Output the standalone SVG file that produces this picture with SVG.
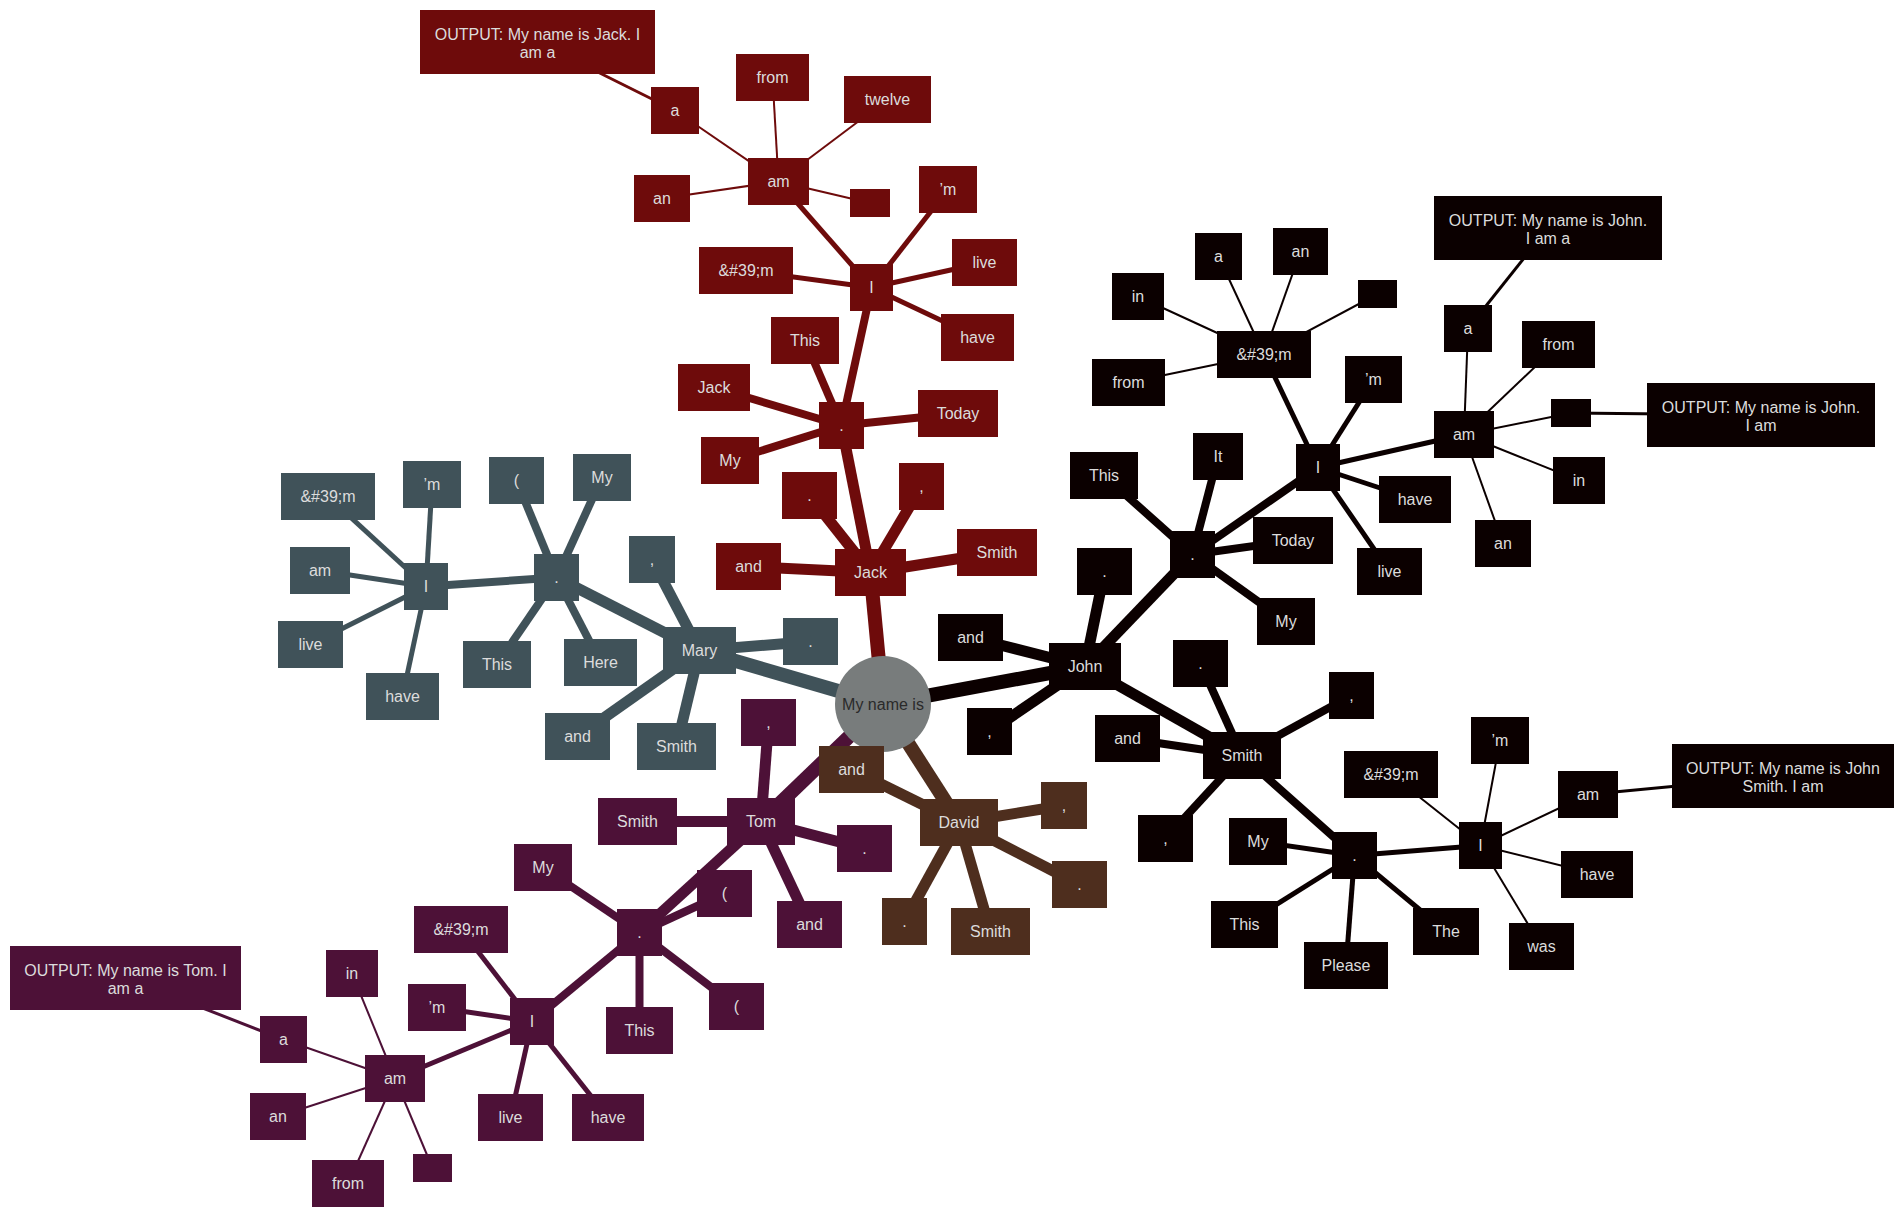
<svg xmlns="http://www.w3.org/2000/svg" width="1904" height="1217" viewBox="0 0 1904 1217">
<style>
.t{font-family:"Liberation Sans",Arial,sans-serif;font-size:16px;fill:#dcdcdc;text-anchor:middle}
.rt{font-family:"Liberation Sans",Arial,sans-serif;font-size:16px;fill:#2a2a2a;text-anchor:middle}
.s0 rect{fill:#6e0b0b}.s1 rect{fill:#405259}.s2 rect{fill:#4d1137}.s3 rect{fill:#4e2e1e}.s4 rect{fill:#0b0000}
.e0{stroke:#6e0b0b}.e1{stroke:#405259}.e2{stroke:#4d1137}.e3{stroke:#4e2e1e}.e4{stroke:#0b0000}
line{fill:none}
.d0{stroke-width:14}.d1{stroke-width:11}.d2{stroke-width:8}.d3{stroke-width:5}.d4{stroke-width:2}.d5{stroke-width:3}
</style>
<rect width="1904" height="1217" fill="#ffffff"/>
<g id="edges">
<!-- Jack -->
<g class="e0">
<line class="d0" x1="883" y1="704" x2="870.5" y2="572.5"/>
<line class="d1" x1="870.5" y1="572.5" x2="748.5" y2="566.5"/>
<line class="d1" x1="870.5" y1="572.5" x2="809.5" y2="495.5"/>
<line class="d1" x1="870.5" y1="572.5" x2="921.5" y2="486.5"/>
<line class="d1" x1="870.5" y1="572.5" x2="997" y2="552.5"/>
<line class="d1" x1="870.5" y1="572.5" x2="841.5" y2="425.5"/>
<line class="d2" x1="841.5" y1="425.5" x2="958" y2="413.5"/>
<line class="d2" x1="841.5" y1="425.5" x2="730" y2="460.5"/>
<line class="d2" x1="841.5" y1="425.5" x2="714" y2="387.5"/>
<line class="d2" x1="841.5" y1="425.5" x2="805" y2="340.5"/>
<line class="d2" x1="841.5" y1="425.5" x2="871.5" y2="287.5"/>
<line class="d3" x1="871.5" y1="287.5" x2="746" y2="270.5"/>
<line class="d3" x1="871.5" y1="287.5" x2="948" y2="189.5"/>
<line class="d3" x1="871.5" y1="287.5" x2="984.5" y2="262.5"/>
<line class="d3" x1="871.5" y1="287.5" x2="977.5" y2="337.5"/>
<line class="d3" x1="871.5" y1="287.5" x2="778.5" y2="181.5"/>
<line class="d4" x1="778.5" y1="181.5" x2="675" y2="110.5"/>
<line class="d4" x1="778.5" y1="181.5" x2="772.5" y2="77.5"/>
<line class="d4" x1="778.5" y1="181.5" x2="887.5" y2="99.5"/>
<line class="d4" x1="778.5" y1="181.5" x2="662" y2="198.5"/>
<line class="d4" x1="778.5" y1="181.5" x2="870" y2="203"/>
<line class="d5" x1="675" y1="110.5" x2="537.5" y2="42"/>
</g>
<!-- Mary -->
<g class="e1">
<line class="d0" x1="883" y1="704" x2="699.5" y2="650.5"/>
<line class="d1" x1="699.5" y1="650.5" x2="810.5" y2="641.5"/>
<line class="d1" x1="699.5" y1="650.5" x2="652" y2="559.5"/>
<line class="d1" x1="699.5" y1="650.5" x2="577.5" y2="736.5"/>
<line class="d1" x1="699.5" y1="650.5" x2="676.5" y2="746.5"/>
<line class="d1" x1="699.5" y1="650.5" x2="556.5" y2="577.5"/>
<line class="d2" x1="556.5" y1="577.5" x2="516.5" y2="480.5"/>
<line class="d2" x1="556.5" y1="577.5" x2="602" y2="477.5"/>
<line class="d2" x1="556.5" y1="577.5" x2="497" y2="664.5"/>
<line class="d2" x1="556.5" y1="577.5" x2="600.5" y2="662.5"/>
<line class="d2" x1="556.5" y1="577.5" x2="426" y2="586.5"/>
<line class="d3" x1="426" y1="586.5" x2="328" y2="496.5"/>
<line class="d3" x1="426" y1="586.5" x2="432" y2="484.5"/>
<line class="d3" x1="426" y1="586.5" x2="320" y2="570.5"/>
<line class="d3" x1="426" y1="586.5" x2="310.5" y2="644.5"/>
<line class="d3" x1="426" y1="586.5" x2="402.5" y2="696.5"/>
</g>
<!-- Tom -->
<g class="e2">
<line class="d0" x1="883" y1="704" x2="761" y2="821.5"/>
<line class="d1" x1="761" y1="821.5" x2="768.5" y2="722.5"/>
<line class="d1" x1="761" y1="821.5" x2="637.5" y2="821.5"/>
<line class="d1" x1="761" y1="821.5" x2="864.5" y2="848.5"/>
<line class="d1" x1="761" y1="821.5" x2="809.5" y2="924.5"/>
<line class="d1" x1="761" y1="821.5" x2="639.5" y2="932.5"/>
<line class="d2" x1="639.5" y1="932.5" x2="543" y2="867.5"/>
<line class="d2" x1="639.5" y1="932.5" x2="724.5" y2="893.5"/>
<line class="d2" x1="639.5" y1="932.5" x2="736.5" y2="1006.5"/>
<line class="d2" x1="639.5" y1="932.5" x2="639.5" y2="1030.5"/>
<line class="d2" x1="639.5" y1="932.5" x2="532" y2="1021.5"/>
<line class="d3" x1="532" y1="1021.5" x2="461" y2="929.5"/>
<line class="d3" x1="532" y1="1021.5" x2="437" y2="1007.5"/>
<line class="d3" x1="532" y1="1021.5" x2="510.5" y2="1117.5"/>
<line class="d3" x1="532" y1="1021.5" x2="608" y2="1117.5"/>
<line class="d3" x1="532" y1="1021.5" x2="395" y2="1078.5"/>
<line class="d4" x1="395" y1="1078.5" x2="352" y2="973.5"/>
<line class="d4" x1="395" y1="1078.5" x2="283.5" y2="1039.5"/>
<line class="d4" x1="395" y1="1078.5" x2="278" y2="1116.5"/>
<line class="d4" x1="395" y1="1078.5" x2="348" y2="1183.5"/>
<line class="d4" x1="395" y1="1078.5" x2="432.5" y2="1168"/>
<line class="d5" x1="283.5" y1="1039.5" x2="125.5" y2="978"/>
</g>
<!-- David -->
<g class="e3">
<line class="d0" x1="883" y1="704" x2="959" y2="822.5"/>
<line class="d1" x1="959" y1="822.5" x2="851.5" y2="769.5"/>
<line class="d1" x1="959" y1="822.5" x2="1064" y2="805.5"/>
<line class="d1" x1="959" y1="822.5" x2="1079.5" y2="884.5"/>
<line class="d1" x1="959" y1="822.5" x2="904.5" y2="921.5"/>
<line class="d1" x1="959" y1="822.5" x2="990.5" y2="931.5"/>
</g>
<!-- John -->
<g class="e4">
<line class="d0" x1="883" y1="704" x2="1085" y2="666.5"/>
<line class="d1" x1="1085" y1="666.5" x2="970.5" y2="637.5"/>
<line class="d1" x1="1085" y1="666.5" x2="1104.5" y2="571.5"/>
<line class="d1" x1="1085" y1="666.5" x2="989.5" y2="731.5"/>
<line class="d1" x1="1085" y1="666.5" x2="1192.5" y2="554.5"/>
<line class="d1" x1="1085" y1="666.5" x2="1242" y2="755.5"/>
<line class="d2" x1="1192.5" y1="554.5" x2="1104" y2="475.5"/>
<line class="d2" x1="1192.5" y1="554.5" x2="1218" y2="456.5"/>
<line class="d2" x1="1192.5" y1="554.5" x2="1293" y2="540.5"/>
<line class="d2" x1="1192.5" y1="554.5" x2="1286" y2="621.5"/>
<line class="d2" x1="1192.5" y1="554.5" x2="1318" y2="467.5"/>
<line class="d3" x1="1318" y1="467.5" x2="1264" y2="354.5"/>
<line class="d3" x1="1318" y1="467.5" x2="1373.5" y2="379.5"/>
<line class="d3" x1="1318" y1="467.5" x2="1415" y2="499.5"/>
<line class="d3" x1="1318" y1="467.5" x2="1389.5" y2="571.5"/>
<line class="d3" x1="1318" y1="467.5" x2="1464" y2="434.5"/>
<line class="d4" x1="1264" y1="354.5" x2="1138" y2="296.5"/>
<line class="d4" x1="1264" y1="354.5" x2="1218.5" y2="256.5"/>
<line class="d4" x1="1264" y1="354.5" x2="1300.5" y2="251.5"/>
<line class="d4" x1="1264" y1="354.5" x2="1377.5" y2="294"/>
<line class="d4" x1="1264" y1="354.5" x2="1128.5" y2="382.5"/>
<line class="d4" x1="1464" y1="434.5" x2="1468" y2="328.5"/>
<line class="d4" x1="1464" y1="434.5" x2="1558.5" y2="344.5"/>
<line class="d4" x1="1464" y1="434.5" x2="1571" y2="413"/>
<line class="d4" x1="1464" y1="434.5" x2="1579" y2="480.5"/>
<line class="d4" x1="1464" y1="434.5" x2="1503" y2="543.5"/>
<line class="d5" x1="1468" y1="328.5" x2="1548" y2="228"/>
<line class="d5" x1="1571" y1="413" x2="1761" y2="415"/>
<line class="d2" x1="1242" y1="755.5" x2="1200.5" y2="663.5"/>
<line class="d2" x1="1242" y1="755.5" x2="1351.5" y2="695.5"/>
<line class="d2" x1="1242" y1="755.5" x2="1127.5" y2="738.5"/>
<line class="d2" x1="1242" y1="755.5" x2="1165.5" y2="838.5"/>
<line class="d2" x1="1242" y1="755.5" x2="1354.5" y2="855.5"/>
<line class="d3" x1="1354.5" y1="855.5" x2="1258" y2="841.5"/>
<line class="d3" x1="1354.5" y1="855.5" x2="1244.5" y2="924.5"/>
<line class="d3" x1="1354.5" y1="855.5" x2="1346" y2="965.5"/>
<line class="d3" x1="1354.5" y1="855.5" x2="1446" y2="931.5"/>
<line class="d3" x1="1354.5" y1="855.5" x2="1480.5" y2="845.5"/>
<line class="d4" x1="1480.5" y1="845.5" x2="1391" y2="774.5"/>
<line class="d4" x1="1480.5" y1="845.5" x2="1500" y2="740.5"/>
<line class="d4" x1="1480.5" y1="845.5" x2="1588" y2="794.5"/>
<line class="d4" x1="1480.5" y1="845.5" x2="1597" y2="874.5"/>
<line class="d4" x1="1480.5" y1="845.5" x2="1541.5" y2="946.5"/>
<line class="d5" x1="1588" y1="794.5" x2="1783" y2="776"/>
</g>
</g>

<g id="root"><circle cx="883" cy="704" r="48" fill="#787c7c"/><text class="rt" x="883" y="709.5">My name is</text></g>

<!-- Jack section -->
<g class="s0">
<g id="n_jack"><rect x="835" y="549" width="71" height="47"/><text class="t" x="870.5" y="578">Jack</text></g>
<g id="n_jack_and"><rect x="716" y="543" width="65" height="47"/><text class="t" x="748.5" y="572">and</text></g>
<g id="n_jack_dot2"><rect x="782" y="472" width="55" height="47"/><text class="t" x="809.5" y="501">.</text></g>
<g id="n_jack_comma"><rect x="899" y="463" width="45" height="47"/><text class="t" x="921.5" y="492">,</text></g>
<g id="n_jack_smith"><rect x="957" y="529" width="80" height="47"/><text class="t" x="997" y="558">Smith</text></g>
<g id="n_jack_dot"><rect x="819" y="402" width="45" height="47"/><text class="t" x="841.5" y="431">.</text></g>
<g id="n_jack_today"><rect x="918" y="390" width="80" height="47"/><text class="t" x="958" y="419">Today</text></g>
<g id="n_jack_my"><rect x="701" y="437" width="58" height="47"/><text class="t" x="730" y="466">My</text></g>
<g id="n_jack_jack2"><rect x="678" y="364" width="72" height="47"/><text class="t" x="714" y="393">Jack</text></g>
<g id="n_jack_this"><rect x="771" y="317" width="68" height="47"/><text class="t" x="805" y="346">This</text></g>
<g id="n_jack_i"><rect x="850" y="264" width="43" height="47"/><text class="t" x="871.5" y="293">I</text></g>
<g id="n_jack_apos"><rect x="699" y="247" width="94" height="47"/><text class="t" x="746" y="276">&amp;#39;m</text></g>
<g id="n_jack_m"><rect x="919" y="166" width="58" height="47"/><text class="t" x="948" y="195">’m</text></g>
<g id="n_jack_live"><rect x="952" y="239" width="65" height="47"/><text class="t" x="984.5" y="268">live</text></g>
<g id="n_jack_have"><rect x="941" y="314" width="73" height="47"/><text class="t" x="977.5" y="343">have</text></g>
<g id="n_jack_am"><rect x="748" y="158" width="61" height="47"/><text class="t" x="778.5" y="187">am</text></g>
<g id="n_jack_a"><rect x="651" y="87" width="48" height="47"/><text class="t" x="675" y="116">a</text></g>
<g id="n_jack_from"><rect x="736" y="54" width="73" height="47"/><text class="t" x="772.5" y="83">from</text></g>
<g id="n_jack_twelve"><rect x="844" y="76" width="87" height="47"/><text class="t" x="887.5" y="105">twelve</text></g>
<g id="n_jack_an"><rect x="634" y="175" width="56" height="47"/><text class="t" x="662" y="204">an</text></g>
<g id="n_jack_blank"><rect x="850" y="189" width="40" height="28"/></g>
<g id="n_jack_out"><rect x="420" y="10" width="235" height="64"/><text class="t" x="537.5" y="40">OUTPUT: My name is Jack. I</text><text class="t" x="537.5" y="58">am a</text></g>
</g>

<!-- Mary section -->
<g class="s1">
<g id="n_mary"><rect x="663" y="627" width="73" height="47"/><text class="t" x="699.5" y="656">Mary</text></g>
<g id="n_mary_dot2"><rect x="783" y="618" width="55" height="47"/><text class="t" x="810.5" y="647">.</text></g>
<g id="n_mary_comma"><rect x="629" y="536" width="46" height="47"/><text class="t" x="652" y="565">,</text></g>
<g id="n_mary_and"><rect x="545" y="713" width="65" height="47"/><text class="t" x="577.5" y="742">and</text></g>
<g id="n_mary_smith"><rect x="637" y="723" width="79" height="47"/><text class="t" x="676.5" y="752">Smith</text></g>
<g id="n_mary_dot"><rect x="534" y="554" width="45" height="47"/><text class="t" x="556.5" y="583">.</text></g>
<g id="n_mary_paren"><rect x="489" y="457" width="55" height="47"/><text class="t" x="516.5" y="486">(</text></g>
<g id="n_mary_my"><rect x="573" y="454" width="58" height="47"/><text class="t" x="602" y="483">My</text></g>
<g id="n_mary_this"><rect x="463" y="641" width="68" height="47"/><text class="t" x="497" y="670">This</text></g>
<g id="n_mary_here"><rect x="564" y="639" width="73" height="47"/><text class="t" x="600.5" y="668">Here</text></g>
<g id="n_mary_i"><rect x="404" y="563" width="44" height="47"/><text class="t" x="426" y="592">I</text></g>
<g id="n_mary_apos"><rect x="281" y="473" width="94" height="47"/><text class="t" x="328" y="502">&amp;#39;m</text></g>
<g id="n_mary_m"><rect x="403" y="461" width="58" height="47"/><text class="t" x="432" y="490">’m</text></g>
<g id="n_mary_am"><rect x="290" y="547" width="60" height="47"/><text class="t" x="320" y="576">am</text></g>
<g id="n_mary_live"><rect x="278" y="621" width="65" height="47"/><text class="t" x="310.5" y="650">live</text></g>
<g id="n_mary_have"><rect x="366" y="673" width="73" height="47"/><text class="t" x="402.5" y="702">have</text></g>
</g>

<!-- Tom section -->
<g class="s2">
<g id="n_tom"><rect x="727" y="798" width="68" height="47"/><text class="t" x="761" y="827">Tom</text></g>
<g id="n_tom_comma"><rect x="741" y="699" width="55" height="47"/><text class="t" x="768.5" y="728">,</text></g>
<g id="n_tom_smith"><rect x="598" y="798" width="79" height="47"/><text class="t" x="637.5" y="827">Smith</text></g>
<g id="n_tom_dot2"><rect x="837" y="825" width="55" height="47"/><text class="t" x="864.5" y="854">.</text></g>
<g id="n_tom_and"><rect x="777" y="901" width="65" height="47"/><text class="t" x="809.5" y="930">and</text></g>
<g id="n_tom_dot"><rect x="617" y="909" width="45" height="47"/><text class="t" x="639.5" y="938">.</text></g>
<g id="n_tom_my"><rect x="514" y="844" width="58" height="47"/><text class="t" x="543" y="873">My</text></g>
<g id="n_tom_paren1"><rect x="697" y="870" width="55" height="47"/><text class="t" x="724.5" y="899">(</text></g>
<g id="n_tom_paren2"><rect x="709" y="983" width="55" height="47"/><text class="t" x="736.5" y="1012">(</text></g>
<g id="n_tom_this"><rect x="606" y="1007" width="67" height="47"/><text class="t" x="639.5" y="1036">This</text></g>
<g id="n_tom_i"><rect x="510" y="998" width="44" height="47"/><text class="t" x="532" y="1027">I</text></g>
<g id="n_tom_apos"><rect x="414" y="906" width="94" height="47"/><text class="t" x="461" y="935">&amp;#39;m</text></g>
<g id="n_tom_m"><rect x="408" y="984" width="58" height="47"/><text class="t" x="437" y="1013">’m</text></g>
<g id="n_tom_live"><rect x="478" y="1094" width="65" height="47"/><text class="t" x="510.5" y="1123">live</text></g>
<g id="n_tom_have"><rect x="572" y="1094" width="72" height="47"/><text class="t" x="608" y="1123">have</text></g>
<g id="n_tom_am"><rect x="365" y="1055" width="60" height="47"/><text class="t" x="395" y="1084">am</text></g>
<g id="n_tom_in"><rect x="326" y="950" width="52" height="47"/><text class="t" x="352" y="979">in</text></g>
<g id="n_tom_a"><rect x="260" y="1016" width="47" height="47"/><text class="t" x="283.5" y="1045">a</text></g>
<g id="n_tom_an"><rect x="250" y="1093" width="56" height="47"/><text class="t" x="278" y="1122">an</text></g>
<g id="n_tom_from"><rect x="312" y="1160" width="72" height="47"/><text class="t" x="348" y="1189">from</text></g>
<g id="n_tom_blank"><rect x="413" y="1154" width="39" height="28"/></g>
<g id="n_tom_out"><rect x="10" y="946" width="231" height="64"/><text class="t" x="125.5" y="976">OUTPUT: My name is Tom. I</text><text class="t" x="125.5" y="994">am a</text></g>
</g>

<!-- David section -->
<g class="s3">
<g id="n_david"><rect x="920" y="799" width="78" height="47"/><text class="t" x="959" y="828">David</text></g>
<g id="n_david_and"><rect x="819" y="746" width="65" height="47"/><text class="t" x="851.5" y="775">and</text></g>
<g id="n_david_comma"><rect x="1041" y="782" width="46" height="47"/><text class="t" x="1064" y="811">,</text></g>
<g id="n_david_dot1"><rect x="1052" y="861" width="55" height="47"/><text class="t" x="1079.5" y="890">.</text></g>
<g id="n_david_dot2"><rect x="882" y="898" width="45" height="47"/><text class="t" x="904.5" y="927">.</text></g>
<g id="n_david_smith"><rect x="951" y="908" width="79" height="47"/><text class="t" x="990.5" y="937">Smith</text></g>
</g>

<!-- John section -->
<g class="s4">
<g id="n_john"><rect x="1049" y="643" width="72" height="47"/><text class="t" x="1085" y="672">John</text></g>
<g id="n_john_and"><rect x="938" y="614" width="65" height="47"/><text class="t" x="970.5" y="643">and</text></g>
<g id="n_john_dot2"><rect x="1077" y="548" width="55" height="47"/><text class="t" x="1104.5" y="577">.</text></g>
<g id="n_john_comma"><rect x="967" y="708" width="45" height="47"/><text class="t" x="989.5" y="737">,</text></g>
<g id="n_john_dot"><rect x="1170" y="531" width="45" height="47"/><text class="t" x="1192.5" y="560">.</text></g>
<g id="n_john_this"><rect x="1070" y="452" width="68" height="47"/><text class="t" x="1104" y="481">This</text></g>
<g id="n_john_it"><rect x="1193" y="433" width="50" height="47"/><text class="t" x="1218" y="462">It</text></g>
<g id="n_john_today"><rect x="1253" y="517" width="80" height="47"/><text class="t" x="1293" y="546">Today</text></g>
<g id="n_john_my"><rect x="1257" y="598" width="58" height="47"/><text class="t" x="1286" y="627">My</text></g>
<g id="n_john_i"><rect x="1296" y="444" width="44" height="47"/><text class="t" x="1318" y="473">I</text></g>
<g id="n_john_apos"><rect x="1217" y="331" width="94" height="47"/><text class="t" x="1264" y="360">&amp;#39;m</text></g>
<g id="n_john_m"><rect x="1345" y="356" width="57" height="47"/><text class="t" x="1373.5" y="385">’m</text></g>
<g id="n_john_have"><rect x="1379" y="476" width="72" height="47"/><text class="t" x="1415" y="505">have</text></g>
<g id="n_john_live"><rect x="1357" y="548" width="65" height="47"/><text class="t" x="1389.5" y="577">live</text></g>
<g id="n_john_am"><rect x="1434" y="411" width="60" height="47"/><text class="t" x="1464" y="440">am</text></g>
<g id="n_john_in1"><rect x="1112" y="273" width="52" height="47"/><text class="t" x="1138" y="302">in</text></g>
<g id="n_john_a1"><rect x="1195" y="233" width="47" height="47"/><text class="t" x="1218.5" y="262">a</text></g>
<g id="n_john_an1"><rect x="1273" y="228" width="55" height="47"/><text class="t" x="1300.5" y="257">an</text></g>
<g id="n_john_blank1"><rect x="1358" y="280" width="39" height="28"/></g>
<g id="n_john_from1"><rect x="1092" y="359" width="73" height="47"/><text class="t" x="1128.5" y="388">from</text></g>
<g id="n_john_a2"><rect x="1444" y="305" width="48" height="47"/><text class="t" x="1468" y="334">a</text></g>
<g id="n_john_from2"><rect x="1522" y="321" width="73" height="47"/><text class="t" x="1558.5" y="350">from</text></g>
<g id="n_john_blank2"><rect x="1551" y="399" width="40" height="28"/></g>
<g id="n_john_in2"><rect x="1553" y="457" width="52" height="47"/><text class="t" x="1579" y="486">in</text></g>
<g id="n_john_an2"><rect x="1475" y="520" width="56" height="47"/><text class="t" x="1503" y="549">an</text></g>
<g id="n_john_out1"><rect x="1434" y="196" width="228" height="64"/><text class="t" x="1548" y="226">OUTPUT: My name is John.</text><text class="t" x="1548" y="244">I am a</text></g>
<g id="n_john_out2"><rect x="1647" y="383" width="228" height="64"/><text class="t" x="1761" y="413">OUTPUT: My name is John.</text><text class="t" x="1761" y="431">I am</text></g>
<g id="n_john_smith"><rect x="1203" y="732" width="78" height="47"/><text class="t" x="1242" y="761">Smith</text></g>
<g id="n_js_dot2"><rect x="1173" y="640" width="55" height="47"/><text class="t" x="1200.5" y="669">.</text></g>
<g id="n_js_comma"><rect x="1329" y="672" width="45" height="47"/><text class="t" x="1351.5" y="701">,</text></g>
<g id="n_js_and"><rect x="1095" y="715" width="65" height="47"/><text class="t" x="1127.5" y="744">and</text></g>
<g id="n_js_comma2"><rect x="1138" y="815" width="55" height="47"/><text class="t" x="1165.5" y="844">,</text></g>
<g id="n_js_dot"><rect x="1332" y="832" width="45" height="47"/><text class="t" x="1354.5" y="861">.</text></g>
<g id="n_js_my"><rect x="1229" y="818" width="58" height="47"/><text class="t" x="1258" y="847">My</text></g>
<g id="n_js_this"><rect x="1211" y="901" width="67" height="47"/><text class="t" x="1244.5" y="930">This</text></g>
<g id="n_js_please"><rect x="1304" y="942" width="84" height="47"/><text class="t" x="1346" y="971">Please</text></g>
<g id="n_js_the"><rect x="1413" y="908" width="66" height="47"/><text class="t" x="1446" y="937">The</text></g>
<g id="n_js_i"><rect x="1459" y="822" width="43" height="47"/><text class="t" x="1480.5" y="851">I</text></g>
<g id="n_js_apos"><rect x="1344" y="751" width="94" height="47"/><text class="t" x="1391" y="780">&amp;#39;m</text></g>
<g id="n_js_m"><rect x="1471" y="717" width="58" height="47"/><text class="t" x="1500" y="746">’m</text></g>
<g id="n_js_am"><rect x="1558" y="771" width="60" height="47"/><text class="t" x="1588" y="800">am</text></g>
<g id="n_js_have"><rect x="1561" y="851" width="72" height="47"/><text class="t" x="1597" y="880">have</text></g>
<g id="n_js_was"><rect x="1509" y="923" width="65" height="47"/><text class="t" x="1541.5" y="952">was</text></g>
<g id="n_js_out"><rect x="1672" y="744" width="222" height="64"/><text class="t" x="1783" y="774">OUTPUT: My name is John</text><text class="t" x="1783" y="792">Smith. I am</text></g>
</g>
</svg>
